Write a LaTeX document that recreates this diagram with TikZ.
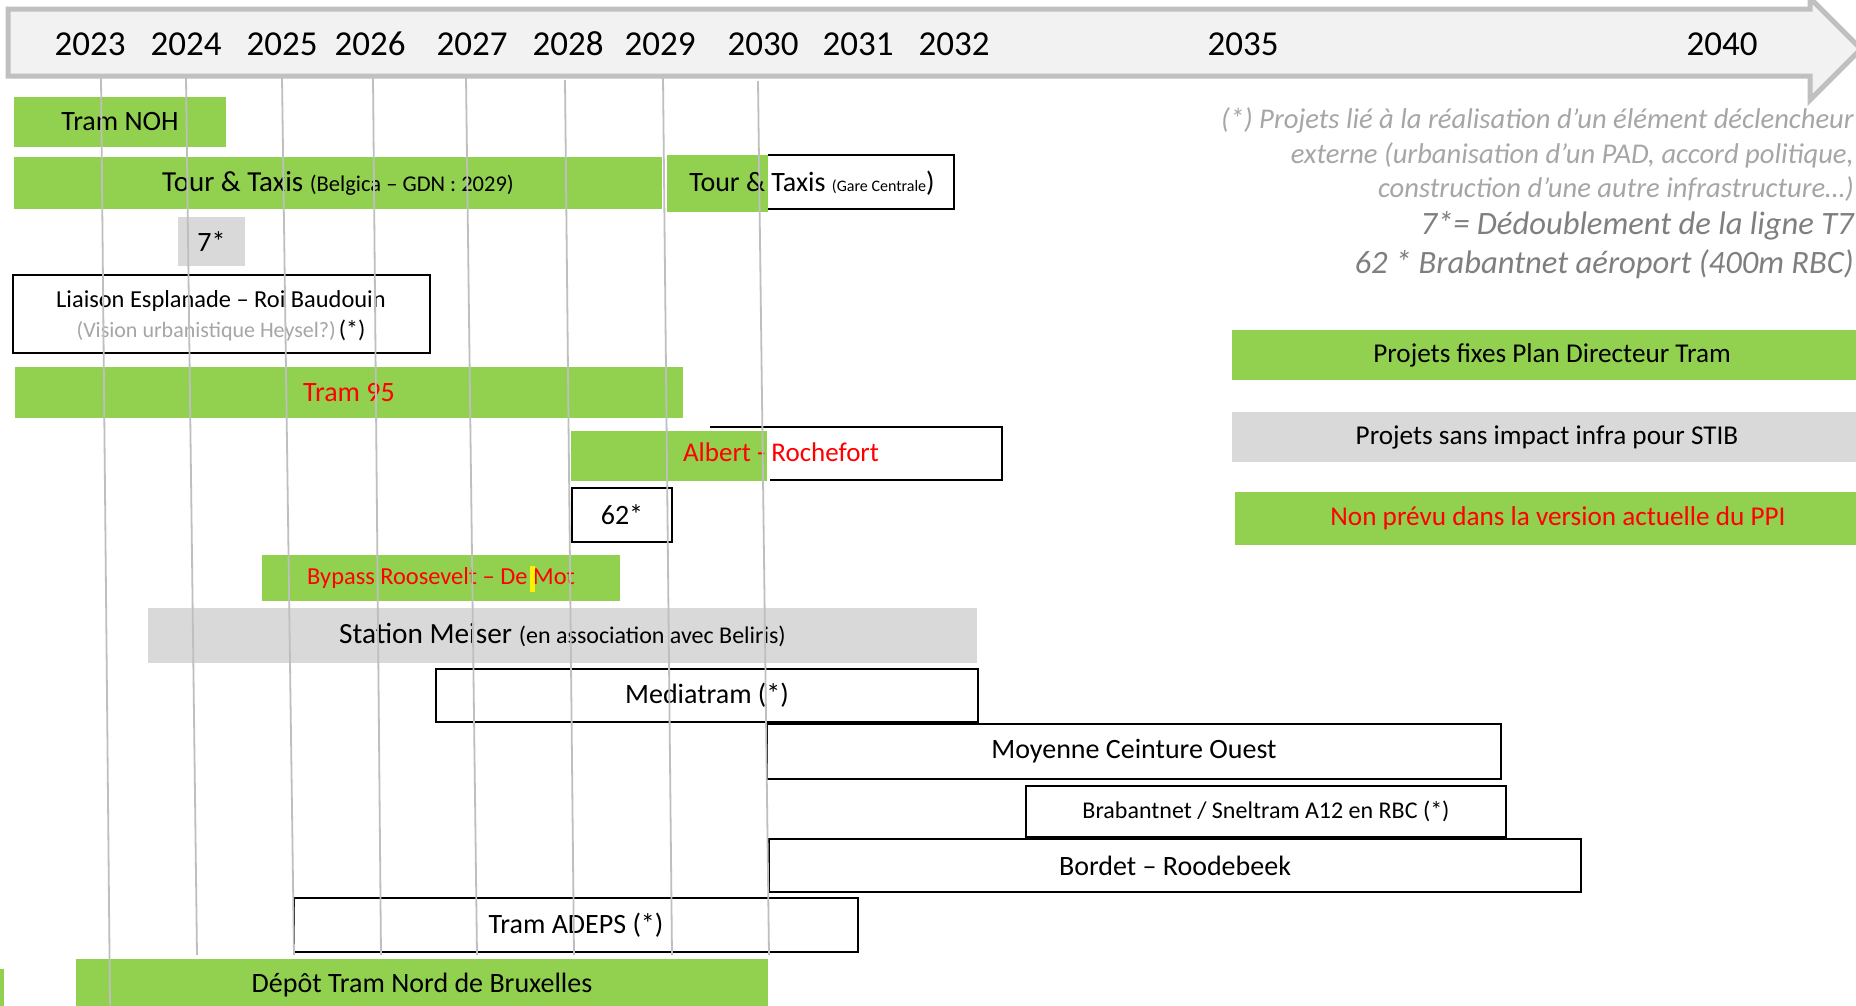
\documentclass[tikz,border=0pt]{standalone}
\usepackage{fontspec}
\setmainfont{Carlito}
\definecolor{grn}{HTML}{92D050}
\definecolor{lgray}{HTML}{D9D9D9}
\definecolor{arrowfill}{HTML}{F2F2F2}
\definecolor{arrowline}{HTML}{C0C0C0}
\definecolor{gridc}{HTML}{BFBFBF}
\definecolor{notec}{HTML}{A6A6A6}
\definecolor{notedark}{HTML}{7F7F7F}
\definecolor{redtxt}{HTML}{FF0000}
\newcommand{\fsz}[1]{\fontsize{#1}{#1}\selectfont}
\newcommand{\gbox}[7]{\node[#6, minimum width=#4-#2, minimum height=#5-#3] (#1) at ({(#2+#4)/2},{(#3+#5)/2}) {#7};}
\tikzset{
  greenbar/.style={fill=grn, inner sep=0pt, font=\fsz{28}},
  graybar/.style={fill=lgray, inner sep=0pt, font=\fsz{28}},
  whitebox/.style={draw=black, line width=2.5pt, fill=white, inner sep=0pt, font=\fsz{28}},
  yearlbl/.style={font=\fsz{35}, inner sep=0pt, text=black},
  gridline/.style={draw=gridc, line width=1.8pt},
  borderline/.style={draw=black, line width=2.5pt},
  notetxt/.style={font=\fsz{28.6}\itshape, text=notec, inner sep=0pt, anchor=east},
  notetxtdark/.style={font=\fsz{32.6}\itshape, text=notedark, inner sep=0pt, anchor=east},
  legtxt/.style={inner sep=0pt, font=\fsz{27.2}},
  plain/.style={inner sep=0pt}
}
\begin{document}
\begin{tikzpicture}[x=1pt, y=-1pt]
\clip (0,0) rectangle (1856,1005);
\fill[white] (0,0) rectangle (1856,1005);
% timeline arrow
\draw[draw=arrowline, line width=5pt, fill=arrowfill, line join=miter]
  (8,9) -- (1810,9) -- (1810,-2) -- (1861,49) -- (1810,100) -- (1810,76) -- (8,76) -- cycle;
% years
\foreach \yr/\xx in {2023/90, 2024/186, 2025/282, 2026/370, 2027/472, 2028/568, 2029/660, 2030/763, 2031/858, 2032/954, 2035/1243, 2040/1722}
  \node[yearlbl] (y\yr) at (\xx,44) {\yr};

% bars
\gbox{noh}{14}{97}{226}{147}{greenbar}{Tram NOH}
\gbox{tt1}{14}{157}{662}{209}{greenbar}{\fsz{29}Tour \& Taxis {\fsz{22.5}(Belgica – GDN : 2029)}}
% Tour & Taxis (Gare Centrale)
\fill[grn] (667,155) rectangle (768,212);
\draw[borderline] (768,155) -- (954,155) -- (954,209) -- (768,209);
\node[plain, font=\fsz{28}] (tt2) at (812,183) {Tour \& Taxis {\fsz{16}(Gare Centrale}{)}};
\gbox{sept}{178}{217}{245}{266}{graybar}{7*}
\gbox{liaison}{13}{275}{430}{353}{whitebox}{}
\node[plain, align=center] (liaisontxt) at (221,316)
  {{\fsz{24.4}Liaison Esplanade – Roi Baudouin}\\[7pt]{\fsz{22}\color{notec}(Vision urbanistique Heysel?)} {\fsz{24}(*)}};
\gbox{t95}{15}{367}{683}{418}{greenbar}{\color{redtxt}Tram 95}
% Albert - Rochefort
\fill[grn] (571,431) rectangle (767,481);
\draw[black, line width=1.5pt] (710,427) -- (770,427);
\draw[borderline] (770,427) -- (1002,427) -- (1002,480) -- (770,480);
\node[plain, font=\fsz{27}, text=redtxt] (alb) at (781,452) {Albert - Rochefort};
\gbox{sixtwo}{572}{488}{672}{542}{whitebox}{62*}
\gbox{bypass}{262}{555}{620}{601}{greenbar}{\fsz{24.4}\color{redtxt}Bypass Roosevelt – De Mot}
\fill[yellow] (530,566) rectangle (535,592);
\gbox{meiser}{148}{608}{977}{663}{graybar}{\fsz{29.3}Station Meiser {\fsz{24}(en association avec Beliris)}}
\gbox{media}{436}{669}{978}{722}{whitebox}{Mediatram (*)}
\gbox{mco}{767}{724}{1501}{779}{whitebox}{Moyenne Ceinture Ouest}
\gbox{braba}{1026}{786}{1506}{837}{whitebox}{\fsz{24}Brabantnet / Sneltram A12 en RBC (*)}
\gbox{bordet}{769}{839}{1581}{892}{whitebox}{Bordet – Roodebeek}
\gbox{adeps}{294}{898}{858}{952}{whitebox}{Tram ADEPS (*)}
\gbox{depot}{76}{959}{768}{1012}{greenbar}{Dépôt Tram Nord de Bruxelles}
\fill[grn] (0,969) rectangle (4,1010);

% grid lines
\foreach \xa/\ya/\xb/\yb in {101/77/110/1005, 186/77/197/955, 282/77/294/955, 373/77/381/955, 466/77/477/955, 565/80/574/955, 663/77/672/955, 758/81/769/955}
  \draw[gridline] (\xa,\ya) -- (\xb,\yb);

% legend notes
\node[notetxt] (note1) at (1854,120) {(*) Projets lié à la réalisation d’un élément déclencheur};
\node[notetxt] (note2) at (1854,155) {externe (urbanisation d’un PAD, accord politique,};
\node[notetxt] (note3) at (1854,189) {construction d’une autre infrastructure…)};
\node[notetxtdark] (note4) at (1854,226) {7*= Dédoublement de la ligne T7};
\node[notetxtdark] (note5) at (1854,264) {62 * Brabantnet aéroport (400m RBC)};

% legend bars
\fill[grn] (1232,330) rectangle (1872,380);
\node[legtxt] (leg1) at (1552,355) {Projets fixes Plan Directeur Tram};
\fill[lgray] (1232,412) rectangle (1872,462);
\node[legtxt] (leg2) at (1547,437) {Projets sans impact infra pour STIB};
\fill[grn] (1235,492) rectangle (1872,545);
\node[legtxt, text=redtxt] (leg3) at (1558,518) {Non prévu dans la version actuelle du PPI};
\end{tikzpicture}
\end{document}
